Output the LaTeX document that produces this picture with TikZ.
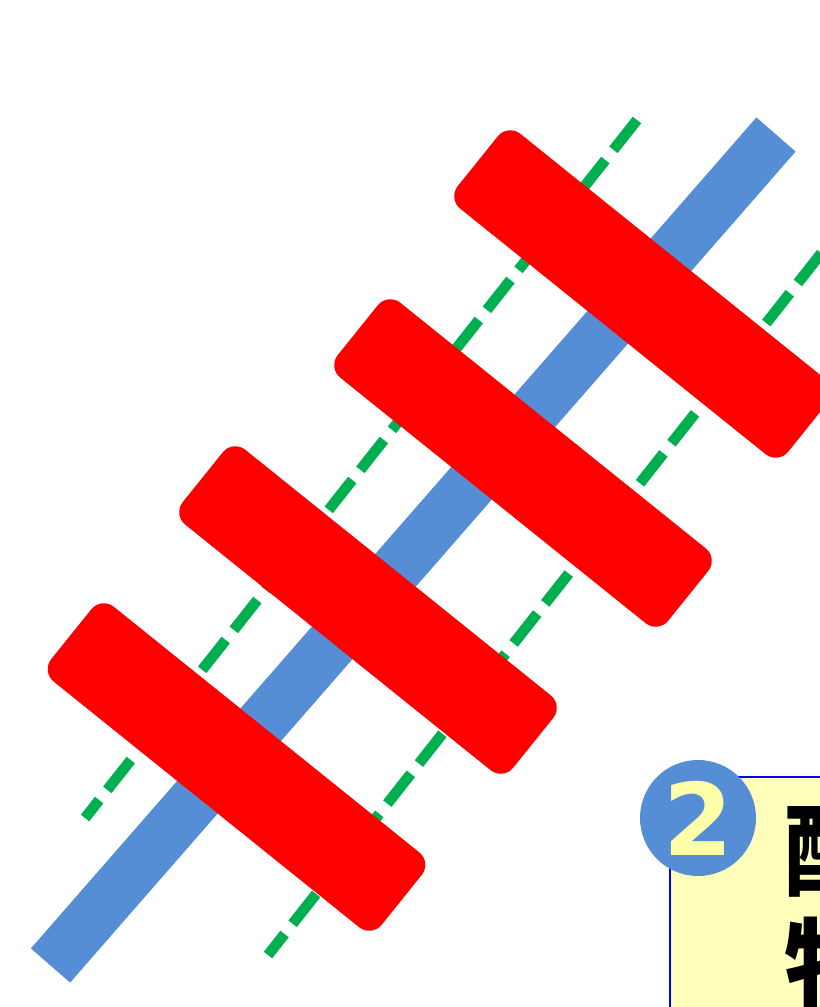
\documentclass[tikz,border=0pt]{standalone}
\usepackage{fontspec}
\setsansfont{DejaVu Sans}
\newfontfamily\cjkfont{Noto Sans CJK JP}
\usetikzlibrary{positioning}
\definecolor{trackblue}{RGB}{85,142,213}
\definecolor{tiegreen}{RGB}{0,176,80}
\definecolor{tiered}{RGB}{255,0,0}
\definecolor{notefill}{RGB}{255,255,187}
\definecolor{digitfill}{RGB}{255,255,170}

\begin{document}
\begin{tikzpicture}[
  x=0.75pt,y=-0.75pt,
  track/.style={draw=trackblue,line width=39pt,line cap=butt},
  rail/.style={draw=tiegreen,line width=8pt,dash pattern=on 28.5pt off 9.75pt},
  bar/.style={fill=tiered,rounded corners=12pt,minimum width=318pt,minimum height=72pt,inner sep=0pt,rotate=-38.8},
  badge/.style={circle,fill=trackblue,minimum size=87pt,inner sep=0pt,text=digitfill,font=\sffamily\bfseries\fontsize{75}{75}\selectfont},
  note/.style={draw=blue,line width=1.1pt,fill=notefill}
]
  \useasboundingbox (0,0) rectangle (820,1007);
  \clip (0,0) rectangle (820,1007);

  % blue track and the two dashed green lines
  \coordinate (tracklo) at (50.5,965.5);
  \coordinate (trackhi) at (776,134.5);
  \draw[track] (tracklo) -- (trackhi);
  \coordinate (railAtop) at (637,120);
  \coordinate (railAbot) at (85,818);
  \coordinate (railBtop) at (868,194);
  \coordinate (railBbot) at (268,955);
  \draw[rail] (railAtop) -- (railAbot);
  \draw[rail,dash phase=20pt] (railBtop) -- (railBbot);

  % red bars
  \node[bar] (bar1) at (643,294) {};
  \node[bar] (bar2) at (523,463) {};
  \node[bar] (bar3) at (368,610) {};
  \node[bar] (bar4) at (236.5,767) {};

  % note box with the number badge
  \draw[note] (670,777) rectangle (900,1100);
  \node[badge] (num) at (698,818) {2};
  \node[anchor=north west,inner sep=0pt,align=left,
        font=\cjkfont\bfseries\fontsize{75}{86}\selectfont] (label) at (784,806) {配\\特};
\end{tikzpicture}
\end{document}
